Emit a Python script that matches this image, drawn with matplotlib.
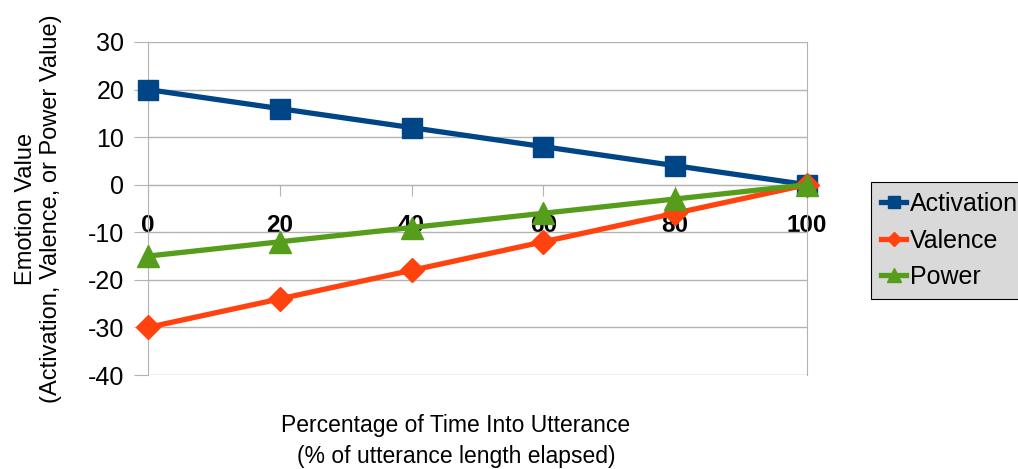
import matplotlib
matplotlib.use("Agg")
import matplotlib.pyplot as plt

x_pct = [0, 20, 40, 60, 80, 100]
activation = [20, 16, 12, 8, 4, 0]
valence = [-30, -24, -18, -12, -6, 0]
power = [-15, -12, -9, -6, -3, 0]
y_ticks = [-40, -30, -20, -10, 0, 10, 20, 30]

plt.rcParams['font.family'] = ['Liberation Sans', 'DejaVu Sans']
plt.rcParams['axes.unicode_minus'] = False

fig = plt.figure(figsize=(10.18, 4.69), dpi=100)
ax = fig.add_axes([148/1018, 1 - 375/469, (807 - 148)/1018, (375 - 42)/469])

grid_c = '#b3b3b3'
ax.plot(x_pct, activation, color='#004586', lw=3.8, marker='s', ms=14.5, label='Activation', clip_on=False, zorder=3)
ax.plot(x_pct, valence, color='#ff420e', lw=3.8, marker='D', ms=12, label='Valence', clip_on=False, zorder=4)
ax.plot(x_pct, power, color='#579d1c', lw=3.8, marker='^', ms=16, label='Power', clip_on=False, zorder=5)

ax.set_xlim(0, 100)
ax.set_ylim(-40, 30)
ax.set_yticks(y_ticks)
ax.set_xticks(x_pct)
ax.yaxis.grid(True, color=grid_c, lw=1)
ax.set_axisbelow(True)

ax.spines['top'].set_visible(False)
ax.spines['left'].set_color(grid_c)
ax.spines['right'].set_color(grid_c)
ax.spines['bottom'].set_position(('data', 0))
ax.spines['bottom'].set_color(grid_c)

ax.tick_params(axis='y', length=10, color=grid_c, labelsize=18, pad=7)
ax.tick_params(axis='x', length=8, color=grid_c, labelsize=17.5, pad=13)
for t in ax.get_xticklabels():
    t.set_fontweight('bold')

ax.set_ylabel('Emotion Value\n(Activation, Valence, or Power Value)', fontsize=17, labelpad=19, linespacing=1.15)
fig.text(456/1018, 1 - 441/469, 'Percentage of Time Into Utterance\n(% of utterance length elapsed)',
         ha='center', va='center', fontsize=16.5, linespacing=1.45)

leg = fig.legend(loc='upper left', bbox_to_anchor=(871/1018, 1 - 182/469), fontsize=18,
                 frameon=True, fancybox=False, framealpha=1, facecolor='#d9d9d9', edgecolor='black',
                 handlelength=1.0, handletextpad=0.15, borderpad=0.4, labelspacing=0.5, borderaxespad=0,
                 markerscale=0.6)
leg.get_frame().set_linewidth(0.8)

fig.savefig('out.png', dpi=100)
